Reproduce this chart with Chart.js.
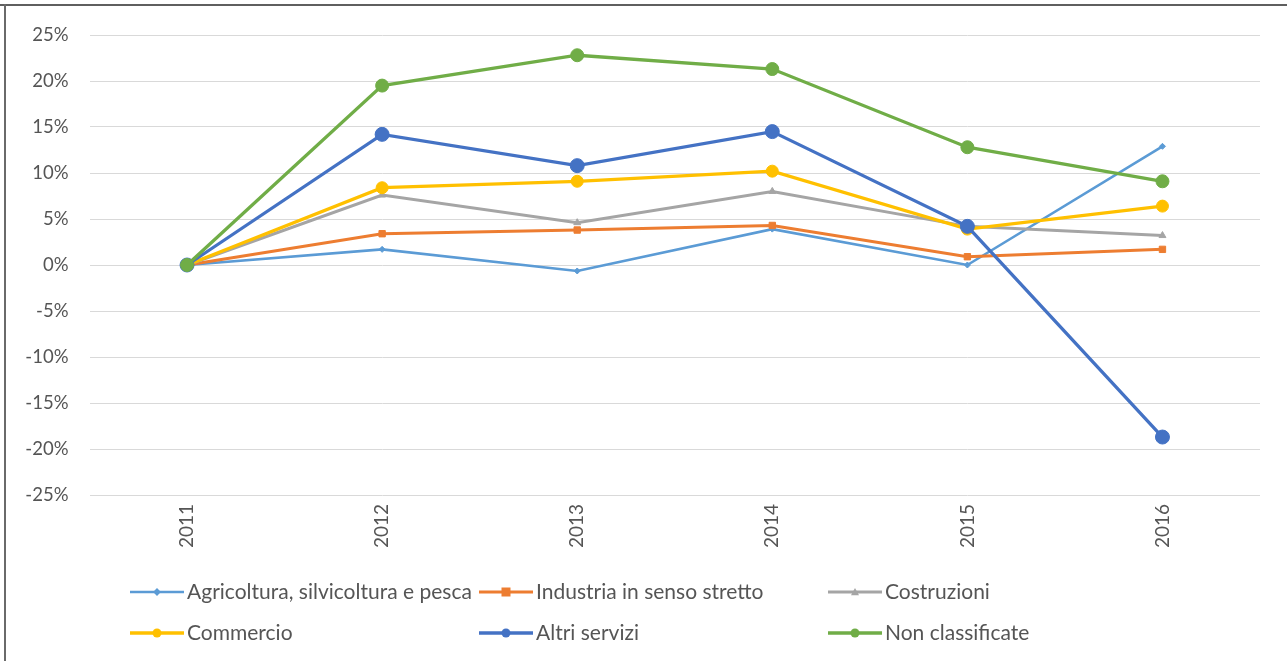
<!DOCTYPE html>
<html>
<head>
<meta charset="utf-8">
<script src="https://cdn.jsdelivr.net/npm/chart.js@4/dist/chart.umd.min.js"></script>
<style>
  html, body { margin: 0; padding: 0; background: #fff; }
  #wrap { position: absolute; left: 0; top: 0; width: 1287px; height: 661px; overflow: hidden; }
  #topline { position: absolute; left: 0; top: 4px; width: 1287px; height: 2px; background: #5f5f5f; }
  #leftline { position: absolute; left: 4px; top: 4px; width: 2px; height: 657px; background: #6a6a6a; }
  canvas { position: absolute; left: 0; top: 0; }
</style>
</head>
<body>
<div id="wrap">
  <canvas id="c" width="1287" height="661"></canvas>
  <div id="topline"></div>
  <div id="leftline"></div>
</div>
<script>
const categories = ['2011', '2012', '2013', '2014', '2015', '2016'];
const seriesNames = ['Agricoltura, silvicoltura e pesca', 'Industria in senso stretto', 'Costruzioni', 'Commercio', 'Altri servizi', 'Non classificate'];
const agricoltura = [0, 1.7, -0.65, 3.9, 0, 12.9];
const industria = [0, 3.4, 3.8, 4.3, 0.9, 1.7];
const costruzioni = [0, 7.6, 4.6, 8.0, 4.2, 3.2];
const commercio = [0, 8.4, 9.1, 10.2, 3.9, 6.4];
const altriServizi = [0, 14.2, 10.8, 14.5, 4.2, -18.7];
const nonClassificate = [0, 19.5, 22.8, 21.3, 12.8, 9.1];
const yTicks = [25, 20, 15, 10, 5, 0, -5, -10, -15, -20, -25];

const seriesValues = [agricoltura, industria, costruzioni, commercio, altriServizi, nonClassificate];
const colors = ['#5B9BD5', '#ED7D31', '#A5A5A5', '#FFC000', '#4472C4', '#70AD47'];
const pointStyles = ['rectRot', 'rect', 'triangle', 'circle', 'circle', 'circle'];
const pointRadii = [3, 4.5, 4, 6, 7, 6.5];
const lineWidths = [2.6, 3, 3, 3.3, 3.3, 3.3];

const FONT = 'Lato, "Open Sans", sans-serif';
const TEXT = '#555555';

const datasets = seriesNames.map((name, i) => ({
  label: name,
  data: seriesValues[i],
  borderColor: colors[i],
  backgroundColor: colors[i],
  pointBackgroundColor: colors[i],
  pointBorderColor: colors[i],
  pointStyle: pointStyles[i],
  pointRadius: pointRadii[i],
  pointBorderWidth: 1,
  borderWidth: lineWidths[i],
  tension: 0,
  order: seriesNames.length - 1 - i
}));

function drawMarker(ctx, style, x, y, r, color) {
  ctx.save();
  ctx.fillStyle = color;
  ctx.beginPath();
  if (style === 'circle') {
    ctx.arc(x, y, r, 0, Math.PI * 2);
  } else if (style === 'rect') {
    ctx.rect(x - r, y - r, 2 * r, 2 * r);
  } else if (style === 'rectRot') {
    ctx.moveTo(x, y - r * 1.3); ctx.lineTo(x + r * 1.3, y); ctx.lineTo(x, y + r * 1.3); ctx.lineTo(x - r * 1.3, y); ctx.closePath();
  } else if (style === 'triangle') {
    ctx.moveTo(x, y - r); ctx.lineTo(x + r, y + r * 0.8); ctx.lineTo(x - r, y + r * 0.8); ctx.closePath();
  }
  ctx.fill();
  ctx.restore();
}

const legendPlugin = {
  id: 'gridLegend',
  afterDraw(chart) {
    const ctx = chart.ctx;
    ctx.save();
    ctx.font = '21px ' + FONT;
    ctx.textBaseline = 'middle';
    ctx.textAlign = 'left';
    chart.data.datasets.forEach((ds, i) => {
      const col = i % 3, row = Math.floor(i / 3);
      const x0 = 130 + col * 349;
      const y = 592 + row * 41;
      ctx.strokeStyle = ds.borderColor;
      ctx.lineWidth = ds.borderWidth;
      ctx.beginPath();
      ctx.moveTo(x0, y);
      ctx.lineTo(x0 + 54, y);
      ctx.stroke();
      drawMarker(ctx, ds.pointStyle, x0 + 27, y, Math.min(ds.pointRadius, 4.5), ds.borderColor);
      ctx.fillStyle = TEXT;
      ctx.fillText(ds.label, x0 + 57, y);
    });
    ctx.restore();
  }
};

new Chart(document.getElementById('c'), {
  type: 'line',
  data: { labels: categories, datasets },
  plugins: [legendPlugin],
  options: {
    responsive: false,
    animation: false,
    layout: { padding: { top: 35, right: 27, bottom: 101, left: 0 } },
    plugins: { legend: { display: false }, tooltip: { enabled: false }, title: { display: false } },
    scales: {
      x: {
        offset: true,
        grid: { display: false, drawTicks: false },
        border: { display: false },
        ticks: { color: TEXT, font: { family: FONT, size: 19 }, minRotation: 90, maxRotation: 90, padding: 9 },
        afterFit(scale) { scale.height = 65; }
      },
      y: {
        min: -25, max: 25,
        afterBuildTicks(scale) { scale.ticks = yTicks.map(v => ({ value: v })); },
        grid: { color: '#D9D9D9', lineWidth: 1, drawTicks: false },
        border: { display: false },
        ticks: { color: TEXT, font: { family: FONT, size: 18.5 }, padding: 21, callback: v => v + '%' },
        afterFit(scale) { scale.width = 89.5; }
      }
    }
  }
});
</script>
</body>
</html>
